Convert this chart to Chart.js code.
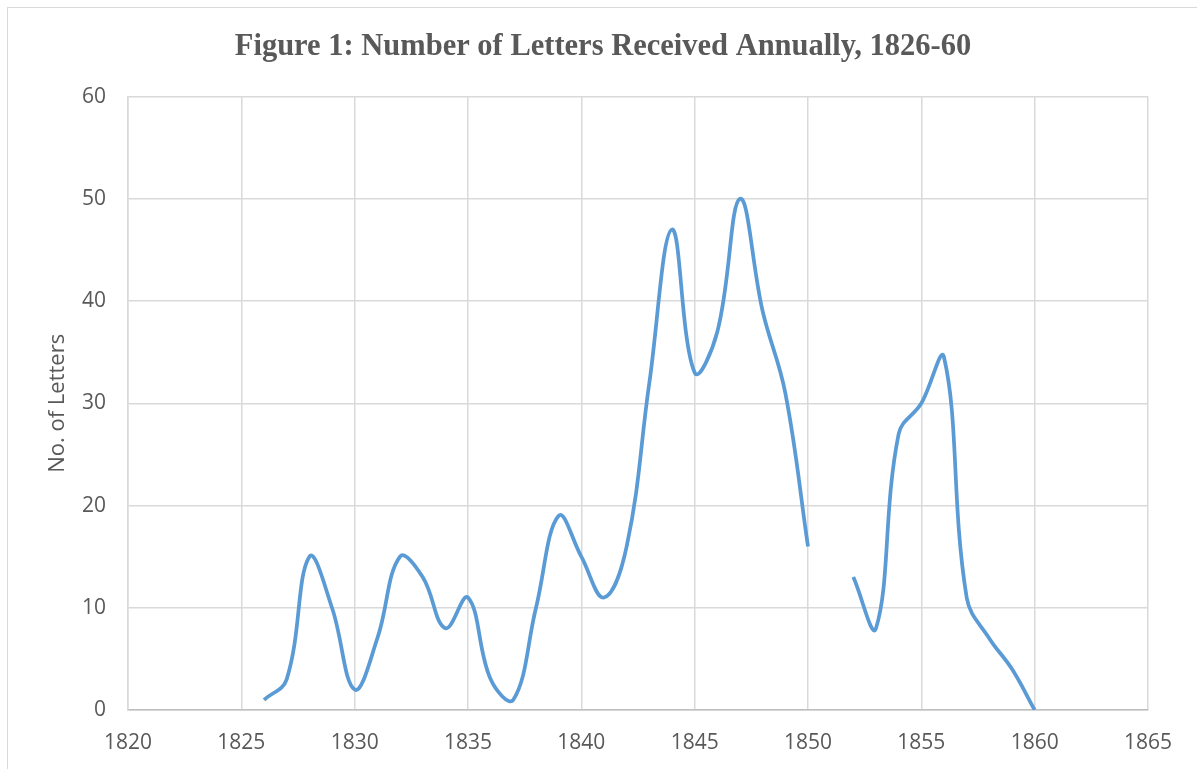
<!DOCTYPE html>
<html>
<head>
<meta charset="utf-8">
<script src="https://cdn.jsdelivr.net/npm/chart.js@4/dist/chart.umd.min.js"></script>
<style>
  html, body { margin: 0; padding: 0; background: #fff; overflow: hidden; }
  #moldura {
    position: absolute; left: 7px; top: 7px; width: 1200px; height: 800px;
    border: 1.5px solid #d9d9d9; box-sizing: border-box;
  }
  #caixa { position: absolute; left: 0; top: 0; width: 1206px; height: 769px; }
</style>
</head>
<body>
<div id="moldura"></div>
<div id="caixa"><canvas id="grafico"></canvas></div>
<script>
// Dados (1851 sem registo)
const anos = [1826, 1827, 1828, 1829, 1830, 1831, 1832, 1833, 1834, 1835,
              1836, 1837, 1838, 1839, 1840, 1841, 1842, 1843, 1844, 1845,
              1846, 1847, 1848, 1849, 1850, 1851, 1852, 1853, 1854, 1855,
              1856, 1857, 1858, 1859, 1860];
const cartas = [1, 3, 15, 10, 2, 7, 15, 13, 8, 11,
                3, 1, 10, 19, 15, 11, 16, 32, 47, 33,
                37, 50, 39, 31, 16, null, 13, 8, 27, 30,
                34.5, 11, 7, 4, 0];
const ticksX = [1820, 1825, 1830, 1835, 1840, 1845, 1850, 1855, 1860, 1865];
const ticksY = [0, 10, 20, 30, 40, 50, 60];

const corTexto = '#595959';
const corGrelha = '#d9d9d9';
const fonteEixos = "'Open Sans', sans-serif";

const pontos = anos.map((ano, i) => ({ x: ano, y: cartas[i] }));

new Chart(document.getElementById('grafico'), {
  type: 'line',
  data: {
    datasets: [{
      label: 'Cartas',
      data: pontos,
      borderColor: '#5b9bd5',
      borderWidth: 3.75,
      pointRadius: 0,
      tension: 0.4,
      spanGaps: false,
      fill: false
    }]
  },
  options: {
    responsive: true,
    maintainAspectRatio: false,
    animation: false,
    layout: { padding: 0 },
    plugins: {
      legend: { display: false },
      tooltip: { enabled: false },
      title: {
        display: true,
        text: 'Figure 1: Number of Letters Received Annually, 1826-60',
        color: corTexto,
        font: { family: "'Liberation Serif', 'Times New Roman', serif", size: 30.5, weight: 'bold' },
        padding: { top: 29, bottom: 31 }
      }
    },
    scales: {
      x: {
        type: 'linear',
        min: ticksX[0],
        max: ticksX[ticksX.length - 1],
        afterBuildTicks: escala => { escala.ticks = ticksX.map(v => ({ value: v })); },
        afterFit: escala => { escala.height = 59; escala.paddingRight = 58; },
        ticks: {
          color: corTexto,
          font: { family: fonteEixos, size: 21 },
          padding: 20,
          maxRotation: 0,
          callback: v => String(v)
        },
        grid: { color: corGrelha, lineWidth: 1.5, drawTicks: false },
        border: { color: '#bfbfbf', width: 1.5 }
      },
      y: {
        min: 0,
        max: 60,
        afterBuildTicks: escala => { escala.ticks = ticksY.map(v => ({ value: v })); },
        afterFit: escala => { escala.width = 128; },
        ticks: {
          color: corTexto,
          font: { family: fonteEixos, size: 21 },
          padding: 22
        },
        grid: { color: corGrelha, lineWidth: 1.5, drawTicks: false },
        border: { color: corGrelha, width: 1.5 },
        title: {
          display: true,
          text: 'No. of Letters',
          color: corTexto,
          font: { family: fonteEixos, size: 22 },
          padding: { top: 45, bottom: 0 }
        }
      }
    }
  }
});
</script>
</body>
</html>
